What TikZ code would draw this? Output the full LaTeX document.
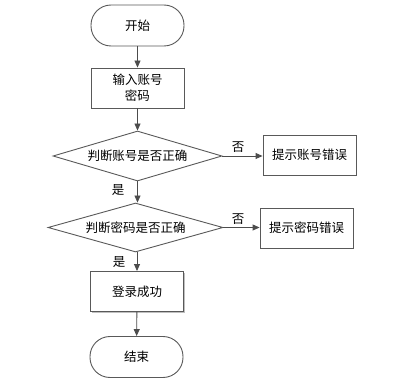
\documentclass[tikz,border=0pt]{standalone}
\usepackage{fontspec}
\setmainfont{Noto Sans CJK SC}
\usetikzlibrary{arrows.meta,shapes.geometric,shadows}
\begin{document}
\begin{tikzpicture}[x=1pt,y=-1pt,
  font=\fontsize{12.5pt}{16pt}\selectfont,
  line width=0.9pt,
  shd/.style={drop shadow={shadow xshift=1.2pt,shadow yshift=-1.2pt,opacity=0.25,fill=black}},
  term/.style={draw=gray!70!black,fill=white,rounded corners=20pt,minimum width=93pt,minimum height=41pt,inner sep=0pt},
  proc/.style={draw=gray!70!black,fill=white,shd,minimum width=93pt,minimum height=40pt,inner sep=0pt,align=center},
  dec/.style={draw=gray!70!black,fill=white,diamond,aspect=3.4,inner sep=0pt},
  arr/.style={draw=black!70,-{Triangle[length=7pt,width=6pt]}},
  lbl/.style={inner sep=0pt}]
\useasboundingbox (0,0) rectangle (397,385);
\node[term] (start) at (137.5,25.5) {开始};
\node[proc] (input) at (137.5,88) {输入账号\\密码};
\node[dec,minimum width=169pt,minimum height=50pt] (d1) at (137.5,156) {判断账号是否正确};
\node[proc] (e1) at (309.5,155) {提示账号错误};
\node[dec,minimum width=175pt,minimum height=49pt] (d2) at (135.5,227.5) {判断密码是否正确};
\node[proc] (e2) at (306.5,228) {提示密码错误};
\node[proc] (ok) at (137,291.5) {登录成功};
\node[term] (end) at (136.5,357) {结束};
\draw[arr] (start) -- (input);
\draw[arr] (input) -- (d1);
\draw[arr] (d1.east) -- (e1.west |- d1.east);
\draw[arr] (d1.south) -- (d1.south |- d2.north);
\draw[arr] (d2.east) -- (e2.west |- d2.east);
\draw[arr] (d2.south -| ok.north) -- (ok.north);
\draw[arr] (ok) -- (end);
\node[lbl] (n1) at (238,147) {否};
\node[lbl] (y1) at (118,190) {是};
\node[lbl] (n2) at (238,219) {否};
\node[lbl] (y2) at (119,262) {是};
\end{tikzpicture}
\end{document}
